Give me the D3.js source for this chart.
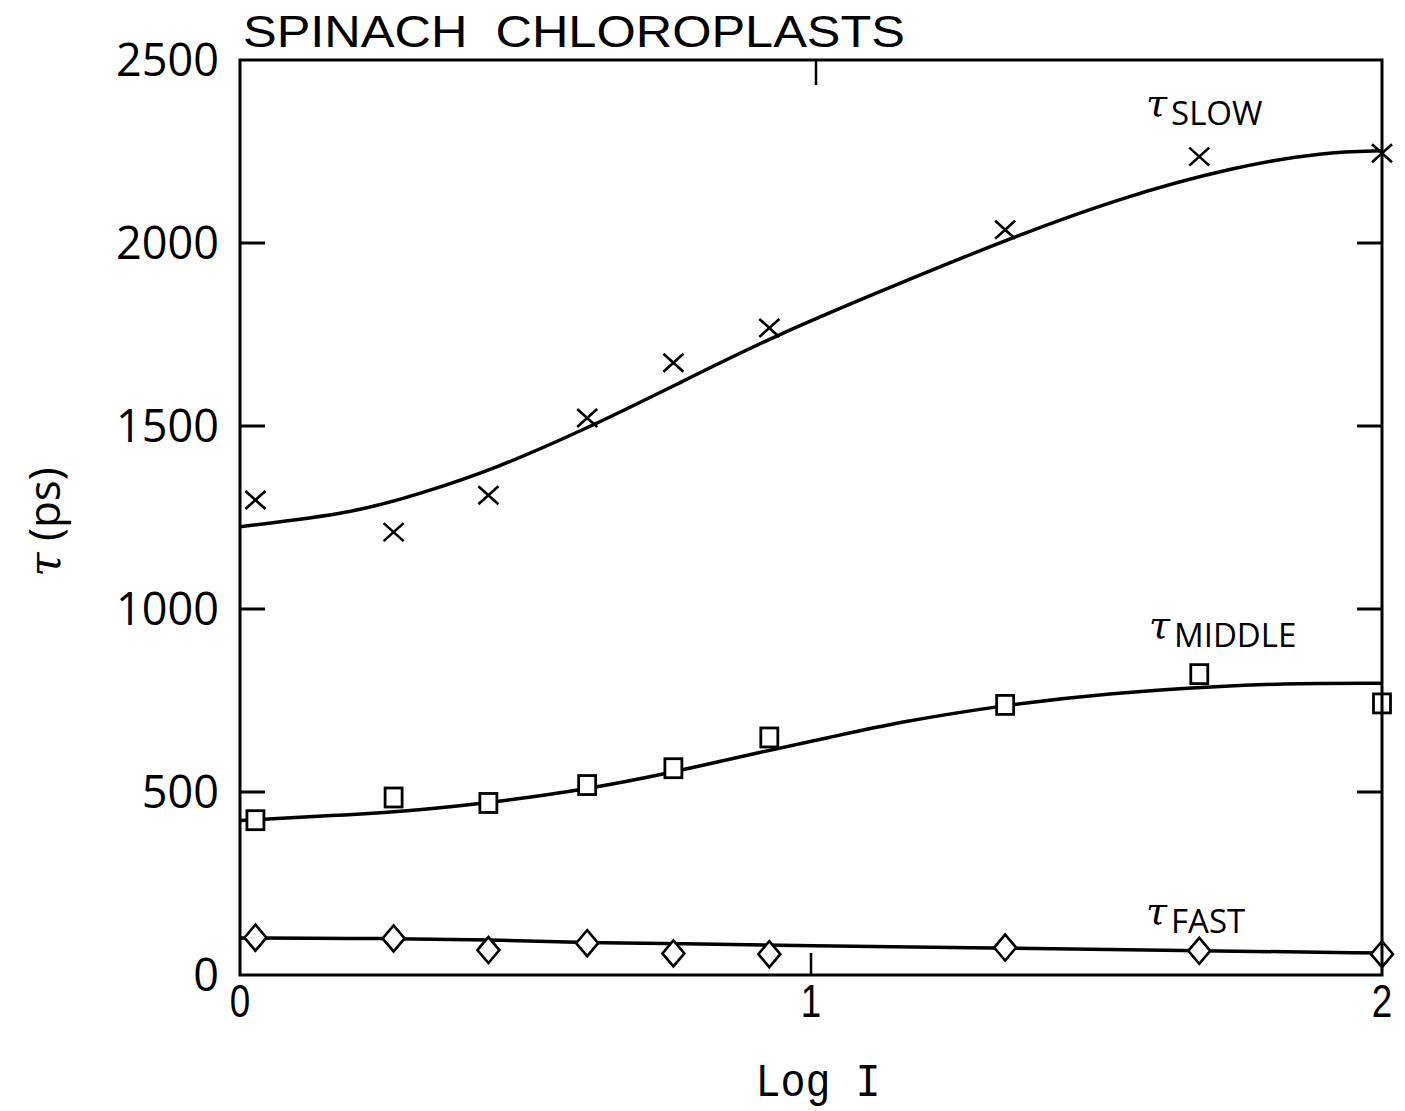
<!DOCTYPE html>
<html>
    <head>
        <title>Spinach chloroplasts</title>
        <script src="https://d3js.org/d3.v7.min.js"></script>
        <style>
            body { margin: 0; background: white; }
        </style>
    </head>
   <body>
   <script>

       // measured points (shared Log I positions)
       var logI = [0.027, 0.269, 0.435, 0.608, 0.759, 0.927, 1.34, 1.68, 2.0];
       var tauSlow = [1298, 1210, 1311, 1522, 1673, 1768, 2036, 2236, 2245];
       var tauMiddle = [423, 485, 470, 519, 565, 649, 738, 822, 742];
       var tauFast = [102, 100, 68, 87, 59, 57, 75, 66, 57];

       // fitted curves
       var fitSlowX = [0, 0.2, 0.32, 0.45, 0.61, 0.76, 0.94, 1.16, 1.34, 1.54, 1.74, 1.9, 2.0];
       var fitSlowY = [1225, 1262, 1317, 1385, 1495, 1610, 1750, 1893, 2008, 2123, 2208, 2249, 2252];
       var fitMiddleX = [0, 0.16, 0.32, 0.44, 0.61, 0.75, 0.92, 1.03, 1.15, 1.34, 1.52, 1.72, 1.85, 2.0];
       var fitMiddleY = [422, 435, 451, 471, 508, 551, 612, 648, 690, 738, 770, 790, 797, 797];
       var fitFastX = [0, 0.25, 0.44, 0.61, 0.77, 0.98, 1.34, 1.69, 2.0];
       var fitFastY = [101, 100, 96, 88, 86, 80, 74, 66, 60];

       var yTicks = [0, 500, 1000, 1500, 2000, 2500];
       var xTicks = [0, 1, 2];

       var canvas = d3.select("body")
                    .append("svg")
                    .attr("width", 1405)
                    .attr("height", 1111)
                    .style("background", "white");

       var x = d3.scaleLinear().domain([0, 2]).range([240, 1382]);
       var y = d3.scaleLinear().domain([0, 2500]).range([975, 60]);

       var roundFont = "'Open Sans', Lato, 'DejaVu Sans', sans-serif";
       var narrowFont = "'Liberation Sans', Arial, sans-serif";
       var tauFont = "'DejaVu Serif', 'Liberation Serif', serif";

       // curves
       function curve(xs, ys) {
           var pts = xs.map(function(d, i) { return [d, ys[i]]; });
           canvas.append("path")
               .datum(pts)
               .attr("fill", "none")
               .attr("stroke", "black")
               .attr("stroke-width", 3.5)
               .attr("d", d3.line()
                   .x(function(d) { return x(d[0]); })
                   .y(function(d) { return y(d[1]); })
                   .curve(d3.curveBasis));
       }
       curve(fitSlowX, fitSlowY);
       curve(fitMiddleX, fitMiddleY);
       curve(fitFastX, fitFastY);

       // crosses
       canvas.selectAll(".slow")
           .data(logI)
           .enter()
           .append("path")
           .attr("class", "slow")
           .attr("transform", function(d, i) { return "translate(" + x(d) + "," + y(tauSlow[i]) + ")"; })
           .attr("d", "M-10,-9L10,9M-10,9L10,-9")
           .attr("stroke", "black")
           .attr("stroke-width", 2.6)
           .attr("fill", "none");

       // squares
       canvas.selectAll(".middle")
           .data(logI)
           .enter()
           .append("rect")
           .attr("class", "middle")
           .attr("x", function(d) { return x(d) - 8.5; })
           .attr("y", function(d, i) { return y(tauMiddle[i]) - 9.5; })
           .attr("width", 17)
           .attr("height", 19)
           .attr("fill", "white")
           .attr("stroke", "black")
           .attr("stroke-width", 2.8);

       // diamonds
       canvas.selectAll(".fast")
           .data(logI)
           .enter()
           .append("path")
           .attr("class", "fast")
           .attr("transform", function(d, i) { return "translate(" + x(d) + "," + y(tauFast[i]) + ")"; })
           .attr("d", "M0,-13L11,0L0,13L-11,0Z")
           .attr("fill", "white")
           .attr("stroke", "black")
           .attr("stroke-width", 2.6);

       // frame
       canvas.append("rect")
           .attr("x", x(0))
           .attr("y", y(2500))
           .attr("width", x(2) - x(0))
           .attr("height", y(0) - y(2500))
           .attr("fill", "none")
           .attr("stroke", "black")
           .attr("stroke-width", 3);

       // inward ticks
       var innerY = yTicks.filter(function(d) { return d > 0 && d < 2500; });
       canvas.selectAll(".ytl")
           .data(innerY)
           .enter()
           .append("line")
           .attr("x1", x(0)).attr("x2", x(0) + 25)
           .attr("y1", function(d) { return y(d); })
           .attr("y2", function(d) { return y(d); })
           .attr("stroke", "black").attr("stroke-width", 3);
       canvas.selectAll(".ytr")
           .data(innerY)
           .enter()
           .append("line")
           .attr("x1", x(2)).attr("x2", x(2) - 25)
           .attr("y1", function(d) { return y(d); })
           .attr("y2", function(d) { return y(d); })
           .attr("stroke", "black").attr("stroke-width", 3);
       var innerX = xTicks.filter(function(d) { return d > 0 && d < 2; });
       innerX.forEach(function(d) {
           canvas.append("line")
               .attr("x1", x(d)).attr("x2", x(d))
               .attr("y1", y(0)).attr("y2", y(0) - 22)
               .attr("stroke", "black").attr("stroke-width", 2.5);
           canvas.append("line")
               .attr("x1", x(d) + 5).attr("x2", x(d) + 5)
               .attr("y1", y(2500)).attr("y2", y(2500) + 25)
               .attr("stroke", "black").attr("stroke-width", 2.5);
       });

       // tick labels
       canvas.selectAll(".ylab")
           .data(yTicks)
           .enter()
           .append("text")
           .attr("x", 219)
           .attr("y", function(d) { return y(d); })
           .attr("dy", "0.36em")
           .attr("text-anchor", "end")
           .style("font-family", roundFont)
           .style("font-size", "45px")
           .text(function(d) { return d; });

       canvas.selectAll(".xlab")
           .data(xTicks)
           .enter()
           .append("text")
           .attr("transform", function(d) { return "translate(" + x(d) + ",1017) scale(0.8,1)"; })
           .attr("text-anchor", "middle")
           .style("font-family", narrowFont)
           .style("font-size", "46px")
           .text(function(d) { return d; });

       // title
       canvas.append("text")
           .attr("x", 243)
           .attr("y", 47)
           .attr("textLength", 662)
           .attr("lengthAdjust", "spacingAndGlyphs")
           .style("white-space", "pre")
           .style("font-family", narrowFont)
           .style("font-size", "44px")
           .text("SPINACH  CHLOROPLASTS");

       // axis titles
       canvas.append("text")
           .attr("x", 818)
           .attr("y", 1096)
           .attr("text-anchor", "middle")
           .attr("textLength", 125)
           .attr("lengthAdjust", "spacingAndGlyphs")
           .style("white-space", "pre")
           .style("font-family", "'Liberation Mono', 'DejaVu Sans Mono', monospace")
           .style("font-size", "46px")
           .text("Log I");

       var ylabel = canvas.append("text")
           .attr("transform", "translate(60,522) rotate(-90)")
           .attr("text-anchor", "middle")
           .style("font-family", roundFont)
           .style("font-size", "44px");
       ylabel.append("tspan")
           .style("font-family", tauFont)
           .style("font-style", "italic")
           .text("\u03c4");
       ylabel.append("tspan").text("\u00a0(ps)");

       // series labels
       var seriesLabels = [
           { name: "SLOW", x: 1146, y: 125 },
           { name: "MIDDLE", x: 1149, y: 647 },
           { name: "FAST", x: 1146, y: 933 }
       ];
       seriesLabels.forEach(function(s) {
           var t = canvas.append("text")
               .attr("x", s.x)
               .attr("y", s.y)
               .style("font-family", roundFont)
               .style("font-size", "33px");
           t.append("tspan")
               .attr("dy", -9)
               .style("font-family", tauFont)
               .style("font-style", "italic")
               .style("font-size", "38px")
               .text("\u03c4");
           t.append("tspan")
               .attr("dy", 9)
               .attr("dx", 4)
               .text(s.name);
       });

        </script>
    </body>
</html>
